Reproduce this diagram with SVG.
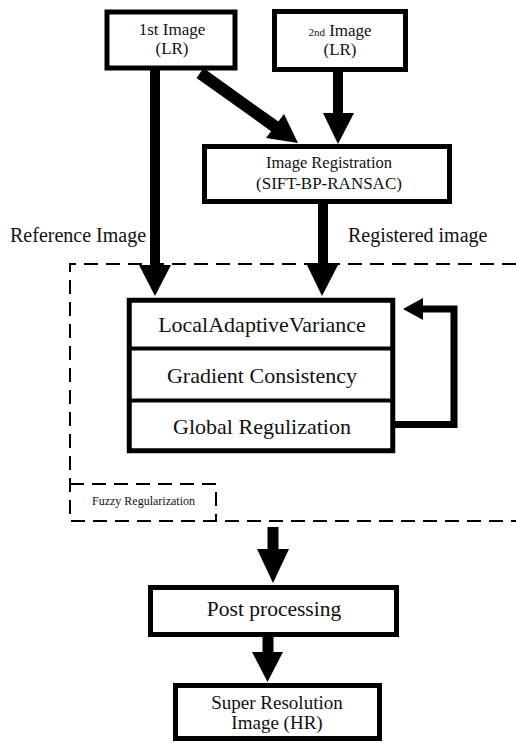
<svg xmlns="http://www.w3.org/2000/svg" width="516" height="744" viewBox="0 0 516 744">
<style>
.box{fill:#fff;stroke:#000;stroke-width:5}
.t{font-family:'Liberation Serif','DejaVu Serif',serif;fill:#111;text-anchor:middle}
.lbl{font-family:'Liberation Serif','DejaVu Serif',serif;fill:#111}
.dash{fill:none;stroke:#000;stroke-width:2;stroke-dasharray:14 8}
.ln{stroke:#000;fill:none}
.hd{fill:#000}
</style>
<rect width="516" height="744" fill="#fff"/>

<g id="fuzzy-region">
<path class="dash" d="M516,264 H70 V521 H516"/>
<path class="dash" d="M70,484 H216 V521"/>
<text class="lbl" x="92" y="505" font-size="12" font-family="Liberation Serif">Fuzzy Regularization</text>
</g>

<g id="connectors">
<line class="ln" x1="155" y1="70" x2="155" y2="267" stroke-width="10"/>
<polygon class="hd" points="139,265 171,265 155,296"/>
<line class="ln" x1="200" y1="73" x2="277" y2="128" stroke-width="12"/>
<polygon class="hd" points="266,138 284,114 298,143"/>
<line class="ln" x1="338" y1="71" x2="338" y2="115" stroke-width="10"/>
<polygon class="hd" points="323,113 354,113 338,144"/>
<line class="ln" x1="323" y1="203" x2="323" y2="267" stroke-width="10"/>
<polygon class="hd" points="307,265 338,265 322,296"/>
<path class="ln" d="M394,424.5 H454 V309 H421" stroke-width="7"/>
<polygon class="hd" points="423,298 423,320 403,309"/>
<line class="ln" x1="273" y1="527" x2="273" y2="551" stroke-width="11"/>
<polygon class="hd" points="257,549 289,549 273,583"/>
<line class="ln" x1="268" y1="636" x2="268" y2="654" stroke-width="11"/>
<polygon class="hd" points="252,652 283,652 267.5,682"/>
</g>

<g id="label-reference">
<text class="lbl" x="10" y="242" font-size="20" font-family="Liberation Serif">Reference Image</text>
</g>
<g id="label-registered">
<text class="lbl" x="348" y="242" font-size="20" font-family="Liberation Serif">Registered image</text>
</g>

<g id="first-image">
<rect class="box" x="107" y="12" width="128" height="56"/>
<text class="t" x="172" y="35" font-size="17" font-family="Liberation Serif">1st Image</text>
<text class="t" x="172" y="54" font-size="17" font-family="Liberation Serif">(LR)</text>
</g>

<g id="second-image">
<rect class="box" x="274.5" y="11.5" width="131" height="58"/>
<text class="t" x="340" y="36" font-size="17" font-family="Liberation Serif"><tspan font-size="11">2nd</tspan> Image</text>
<text class="t" x="340" y="55" font-size="17" font-family="Liberation Serif">(LR)</text>
</g>

<g id="registration">
<rect class="box" x="204.5" y="146.5" width="245" height="55"/>
<text class="t" x="329" y="168" font-size="16.5" font-family="Liberation Serif">Image Registration</text>
<text class="t" x="329" y="189" font-size="17" font-family="Liberation Serif">(SIFT-BP-RANSAC)</text>
</g>

<g id="stack">
<rect class="box" x="129.25" y="300.25" width="263.5" height="150.5" stroke-width="4.5"/>
<line class="ln" x1="129" y1="348.5" x2="393" y2="348.5" stroke-width="4"/>
<line class="ln" x1="129" y1="400.5" x2="393" y2="400.5" stroke-width="4"/>
</g>
<g id="local-adaptive-variance">
<text class="t" x="262" y="332" font-size="22" font-family="Liberation Serif">LocalAdaptiveVariance</text>
</g>
<g id="gradient-consistency">
<text class="t" x="262" y="383" font-size="22" font-family="Liberation Serif">Gradient Consistency</text>
</g>
<g id="global-regulization">
<text class="t" x="262" y="434" font-size="22" font-family="Liberation Serif">Global Regulization</text>
</g>

<g id="post-processing">
<rect class="box" x="150.5" y="587.5" width="246" height="47"/>
<text class="t" x="274" y="616" font-size="21.5" font-family="Liberation Serif">Post processing</text>
</g>

<g id="super-resolution">
<rect class="box" x="175.5" y="685.5" width="204" height="53"/>
<text class="t" x="277" y="709" font-size="19" font-family="Liberation Serif">Super Resolution</text>
<text class="t" x="277" y="729" font-size="19" font-family="Liberation Serif">Image (HR)</text>
</g>
</svg>
